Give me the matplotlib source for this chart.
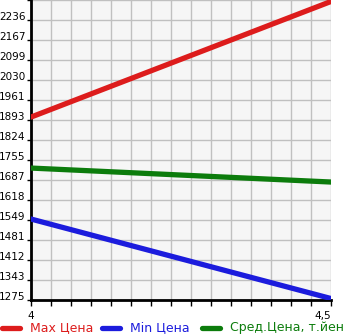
import numpy as np
import matplotlib.pyplot as plt
from matplotlib.lines import Line2D

x = [4, 4.5]
max_price = [1903, 2300]
min_price = [1553, 1280]
avg_price = [1728, 1680]
series_names = ["Max Цена", "Min Цена", "Сред.Цена, т.йен"]
series_colors = ["#dd1c1c", "#1c1cdd", "#0c7c0c"]

y_min, y_step = 1275, 206 / 3
y_ticks = [y_min + k * y_step for k in range(16)]
y_labels = [str(int(np.floor(v + 1e-6))) for v in y_ticks]
y_labels[-1] = ""

W, H = 345, 335
fig = plt.figure(figsize=(W / 100, H / 100), dpi=100)
ax = fig.add_axes([31 / W, 35 / H, 300 / W, 300 / H])
ax.set_facecolor("#f6f6f6")

for vals, c in zip([max_price, min_price, avg_price], series_colors):
    ax.plot(x, vals, color=c, lw=3.8, solid_capstyle="round", zorder=3)

ax.set_xlim(4, 4.5)
ax.set_ylim(y_ticks[0], y_ticks[-1])
ax.set_yticks(y_ticks)
ax.set_yticklabels(y_labels, fontsize=7.5)
for t in ax.get_yticklabels():
    t.set_va("baseline")
xt = np.linspace(4, 4.5, 16)
ax.set_xticks(xt)
ax.set_xticklabels(["4"] + [""] * 14 + ["4,5"], fontsize=7.5)
ax.get_xticklabels()[-1].set_ha("right")
ax.grid(True, color="#c0c0c0", lw=1)
ax.tick_params(axis="y", length=3, width=1, color="black", pad=1)
ax.tick_params(axis="x", length=4, width=1, color="black", pad=4)
for s in ["top", "right"]:
    ax.spines[s].set_visible(False)
ax.spines["left"].set_linewidth(2)
ax.spines["bottom"].set_linewidth(2)

# legend row along the bottom
line_x = [0, 100, 200]
for lx, name, c in zip(line_x, series_names, series_colors):
    fig.add_artist(Line2D([(lx + 2) / W, (lx + 20) / W], [7 / H, 7 / H], color=c, lw=3.8,
                          solid_capstyle="round", transform=fig.transFigure))
    fig.text((lx + 30) / W, 7 / H, name, color=c, fontsize=9, va="center", ha="left")

fig.savefig("out.png", dpi=100)
